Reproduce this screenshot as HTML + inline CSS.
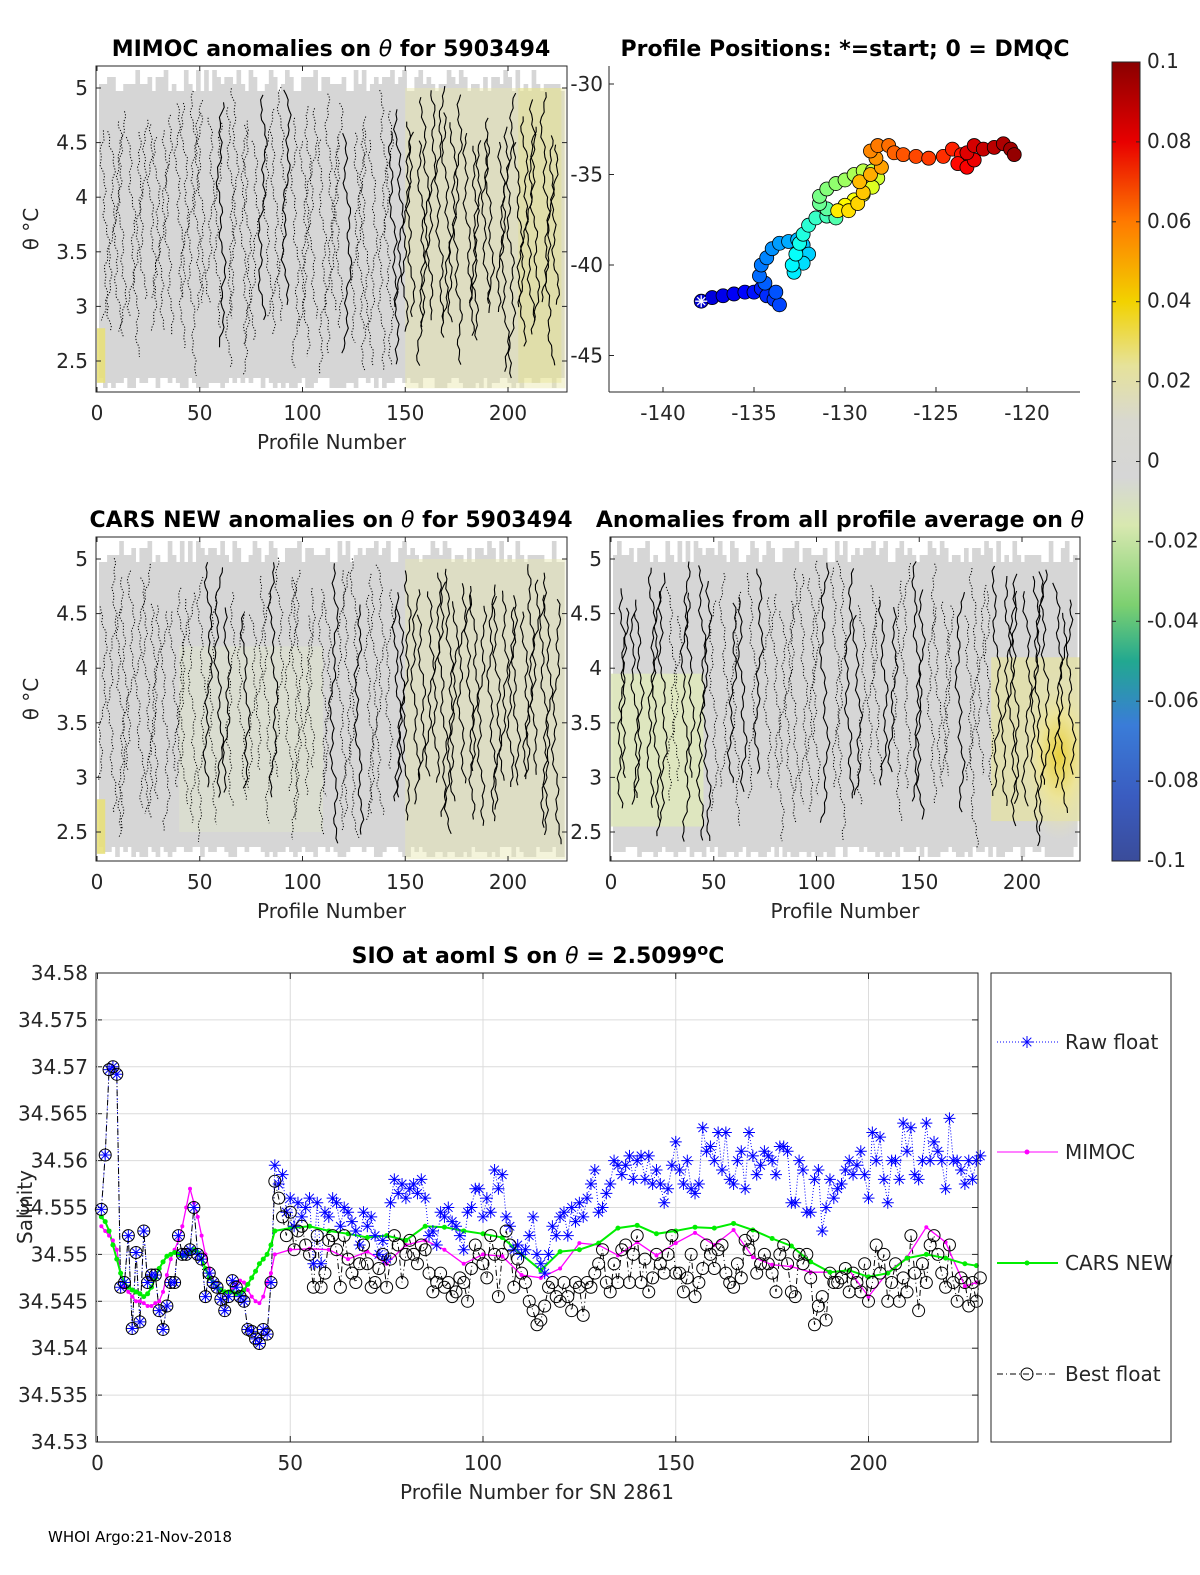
<!DOCTYPE html>
<html><head><meta charset="utf-8"><style>
html,body{margin:0;padding:0;background:#fff;}
svg{display:block;font-family:"DejaVu Sans","Liberation Sans",sans-serif;}
.t{font-size:20px;fill:#262626;}
.ti{font-size:22px;font-weight:bold;fill:#000;}
</style></head><body>
<svg id="fig" width="1200" height="1575" viewBox="0 0 1200 1575" xmlns="http://www.w3.org/2000/svg">
<defs>
<linearGradient id="cbar" x1="0" y1="0" x2="0" y2="1">
<stop offset="0" stop-color="#8a0000"/><stop offset="0.1" stop-color="#e80000"/>
<stop offset="0.2" stop-color="#ff7a00"/><stop offset="0.3" stop-color="#f2d200"/>
<stop offset="0.38" stop-color="#e6e29a"/><stop offset="0.45" stop-color="#d8d8d0"/>
<stop offset="0.52" stop-color="#d6d6d6"/><stop offset="0.58" stop-color="#d8e8b0"/>
<stop offset="0.68" stop-color="#7cd070"/><stop offset="0.75" stop-color="#22a890"/>
<stop offset="0.83" stop-color="#3a7cd8"/><stop offset="0.92" stop-color="#3a5cc0"/>
<stop offset="1" stop-color="#3a4c9a"/></linearGradient>
<radialGradient id="yel4" cx="0.5" cy="0.5" r="0.5"><stop offset="0" stop-color="#e8d040"/><stop offset="0.5" stop-color="#ece49a"/><stop offset="1" stop-color="#e0e0c0" stop-opacity="0"/></radialGradient>
</defs>
<text class="ti" x="331" y="56" text-anchor="middle">MIMOC anomalies on <tspan font-style="italic" font-weight="normal">θ</tspan>  for 5903494</text>
<text class="ti" x="845" y="56" text-anchor="middle">Profile Positions: *=start; 0 = DMQC</text>
<text class="ti" x="331" y="527" text-anchor="middle">CARS NEW anomalies on <tspan font-style="italic" font-weight="normal">θ</tspan> for 5903494</text>
<text class="ti" x="840" y="527" text-anchor="middle">Anomalies from all profile average on <tspan font-style="italic" font-weight="normal">θ</tspan></text>
<text class="ti" x="538" y="963" text-anchor="middle">SIO at aoml S on <tspan font-style="italic" font-weight="normal">θ</tspan> = 2.5099<tspan dy="-8" font-size="16">o</tspan><tspan dy="8">C</tspan></text>
<text x="48" y="1542" font-size="15" fill="#000">WHOI Argo:21-Nov-2018</text>
<g id="g"></g>
</svg>
<script>
// ---- salinity chart data ----
const rawP1 = [34.5548,34.5606,34.5697,34.5700,34.5692,34.5465,34.5470,34.5520,34.5421,34.5502,34.5428,34.5525,34.5470,34.5478,34.5478,34.5440,34.5420,34.5445,34.5470,34.5470,34.5520,34.5500,34.5500,34.5505,34.5550,34.5500,34.5495,34.5455,34.5480,34.5470,34.5465,34.5452,34.5440,34.5455,34.5472,34.5465,34.5455,34.5450,34.5420,34.5418,34.5410,34.5405,34.5420,34.5415,34.5470,34.5595];
const rawP2 = [34.5575,34.5585,34.5545,34.5560,34.5530,34.5555,34.5540,34.5550,34.5560,34.5490,
34.5555,34.5490,34.5545,34.5540,34.5560,34.5555,34.5530,34.5550,34.5545,34.5535,
34.5525,34.5510,34.5545,34.5530,34.5540,34.5520,34.5500,34.5515,34.5495,34.5555,
34.5580,34.5565,34.5575,34.5560,34.5570,34.5575,34.5565,34.5580,34.5560,34.5520,
34.5525,34.5510,34.5545,34.5540,34.5550,34.5535,34.5530,34.5520,34.5505,34.5545,
34.5550,34.5570,34.5570,34.5540,34.5560,34.5545,34.5590,34.5570,34.5585,34.5540,
34.5530,34.5505,34.5510,34.5500,34.5505,34.5520,34.5540,34.5500,34.5490,34.5480,
34.5500,34.5530,34.5520,34.5540,34.5545,34.5520,34.5550,34.5535,34.5555,34.5540,
34.5560,34.5575,34.5590,34.5545,34.5550,34.5565,34.5575,34.5600,34.5595,34.5585,
34.5595,34.5605,34.5580,34.5600,34.5605,34.5580,34.5605,34.5575,34.5590,34.5575,
34.5555,34.5570,34.5595,34.5620,34.5590,34.5575,34.5600,34.5570,34.5565,34.5575,
34.5635,34.5610,34.5615,34.5600,34.5630,34.5590,34.5630,34.5580,34.5575,34.5600,
34.5610,34.5570,34.5630,34.5605,34.5585,34.5595,34.5610,34.5605,34.5600,34.5585,
34.5615,34.5615,34.5610,34.5555,34.5555,34.5600,34.5590,34.5545,34.5545,34.5580,
34.5590,34.5525,34.5550,34.5580,34.5560,34.5570,34.5575,34.5590,34.5600,34.5585,
34.5595,34.5610,34.5585,34.5560,34.5630,34.5600,34.5625,34.5580,34.5555,34.5600,
34.5600,34.5580,34.5640,34.5610,34.5635,34.5585,34.5580,34.5600,34.5640,34.5600,
34.5620,34.5610,34.5600,34.5570,34.5645,34.5600,34.5600,34.5590,34.5575,34.5600,
34.5580,34.5600,34.5605];
const bestP2 = [34.5578,34.5560,34.5540,34.5520,34.5545,34.5505,34.5525,34.5530,34.5510,34.5500,34.5465,
34.5520,34.5465,34.5480,34.5515,34.5520,34.5505,34.5465,34.5520,34.5495,34.5480,
34.5470,34.5490,34.5510,34.5490,34.5465,34.5470,34.5485,34.5500,34.5465,34.5495,
34.5520,34.5510,34.5470,34.5500,34.5515,34.5500,34.5490,34.5510,34.5505,34.5480,
34.5460,34.5470,34.5480,34.5465,34.5470,34.5455,34.5460,34.5475,34.5470,34.5450,
34.5485,34.5510,34.5500,34.5490,34.5475,34.5520,34.5500,34.5455,34.5500,34.5525,
34.5510,34.5465,34.5495,34.5480,34.5470,34.5450,34.5440,34.5425,34.5430,34.5445,
34.5465,34.5470,34.5455,34.5450,34.5470,34.5455,34.5440,34.5470,34.5465,34.5435,
34.5470,34.5465,34.5480,34.5490,34.5505,34.5470,34.5460,34.5490,34.5470,34.5505,
34.5510,34.5470,34.5500,34.5520,34.5470,34.5495,34.5460,34.5475,34.5500,34.5490,
34.5480,34.5500,34.5520,34.5480,34.5480,34.5460,34.5475,34.5500,34.5455,34.5470,
34.5485,34.5510,34.5500,34.5485,34.5505,34.5510,34.5480,34.5470,34.5465,34.5490,
34.5475,34.5515,34.5505,34.5520,34.5480,34.5490,34.5500,34.5490,34.5480,34.5460,
34.5500,34.5510,34.5490,34.5460,34.5455,34.5500,34.5490,34.5500,34.5475,34.5425,
34.5445,34.5455,34.5430,34.5480,34.5470,34.5470,34.5475,34.5485,34.5460,34.5480,
34.5470,34.5460,34.5490,34.5450,34.5470,34.5510,34.5480,34.5500,34.5450,34.5470,
34.5490,34.5450,34.5475,34.5460,34.5520,34.5480,34.5440,34.5490,34.5470,34.5510,
34.5520,34.5500,34.5480,34.5465,34.5510,34.5470,34.5450,34.5475,34.5470,34.5445,
34.5470,34.5450,34.5475];
const rawFloat = rawP1.concat(rawP2);
const bestFloat = rawP1.slice(0,45).concat(bestP2);
const mimocProf = [1,2,3,4,5,6,7,8,9,10,11,12,13,14,15,16,17,18,19,20,21,22,23,24,25,26,27,28,29,30,31,32,33,34,35,36,37,38,39,40,41,42,43,44,45,46,50,55,60,65,70,75,80,85,90,95,100,105,110,115,120,125,130,135,140,145,150,155,160,165,170,175,180,185,190,195,200,205,210,215,220,225,228];
const mimocVal = [34.5530,34.5525,34.5520,34.5515,34.5505,34.5480,34.5465,34.5460,34.5455,34.5450,34.5450,34.5448,34.5445,34.5445,34.5448,34.5450,34.5460,34.5478,34.5495,34.5505,34.5515,34.5530,34.5550,34.5570,34.5555,34.5540,34.5520,34.5500,34.5485,34.5470,34.5465,34.5462,34.5460,34.5458,34.5462,34.5468,34.5472,34.5470,34.5462,34.5455,34.5450,34.5448,34.5455,34.5470,34.5480,34.5500,
34.5505,34.5506,34.5505,34.5495,34.5503,34.5490,34.5510,34.5515,34.5505,34.5490,34.5500,34.5498,34.5478,34.5475,34.5485,34.5512,34.5510,34.5499,34.5513,34.5499,34.5512,34.5523,34.5510,34.5526,34.5497,34.5489,34.5487,34.5481,34.5481,34.5483,34.5455,34.5481,34.5497,34.5529,34.5513,34.5466,34.5470];
const carsVal = [34.5540,34.5535,34.5525,34.5510,34.5495,34.5480,34.5470,34.5465,34.5462,34.5460,34.5458,34.5455,34.5458,34.5465,34.5475,34.5485,34.5492,34.5498,34.5500,34.5502,34.5500,34.5498,34.5500,34.5502,34.5505,34.5502,34.5495,34.5485,34.5475,34.5470,34.5465,34.5462,34.5460,34.5460,34.5460,34.5458,34.5458,34.5462,34.5468,34.5475,34.5482,34.5490,34.5495,34.5500,34.5510,34.5525,
34.5528,34.5530,34.5525,34.5522,34.5518,34.5520,34.5515,34.5530,34.5529,34.5525,34.5522,34.5518,34.5500,34.5483,34.5503,34.5505,34.5512,34.5528,34.5531,34.5522,34.5525,34.5529,34.5528,34.5533,34.5526,34.5517,34.5509,34.5492,34.5481,34.5483,34.5476,34.5480,34.5496,34.5500,34.5496,34.5490,34.5488];
const salYTicks = [34.53,34.535,34.54,34.545,34.55,34.555,34.56,34.565,34.57,34.575,34.58];
const salXTicks = [0,50,100,150,200];
// ---- map data ----
const trackLon = [-137.9,-137.3,-136.7,-136.1,-135.5,-135.0,-134.6,-134.3,-133.9,-133.6,-133.8,-134.4,-134.7,-134.6,-134.3,-134.0,-133.6,-133.1,-132.6,-132.3,-132.0,-132.3,-132.8,-132.9,-132.7,-132.5,-132.3,-132.0,-131.6,-131.0,-130.5,-131.0,-131.4,-131.4,-131.0,-130.5,-130.0,-129.5,-129.0,-128.5,-128.2,-128.5,-129.0,-129.5,-130.0,-130.4,-129.8,-129.3,-129.0,-129.2,-128.6,-128.0,-128.3,-128.6,-128.2,-127.6,-127.3,-126.8,-126.1,-125.4,-124.6,-124.1,-123.6,-123.8,-123.3,-122.9,-123.3,-122.9,-122.4,-121.8,-121.3,-120.9,-120.7];
const trackLat = [-42.0,-41.8,-41.7,-41.6,-41.5,-41.5,-41.3,-41.7,-41.9,-42.2,-41.5,-41.0,-40.6,-40.0,-39.6,-39.1,-38.8,-38.7,-38.6,-38.9,-39.4,-39.9,-40.4,-40.0,-39.4,-38.8,-38.3,-37.8,-37.4,-37.3,-37.4,-36.9,-36.6,-36.2,-35.8,-35.5,-35.3,-35.0,-34.8,-34.8,-35.2,-35.7,-36.1,-36.4,-36.7,-37.0,-37.0,-36.6,-36.0,-35.4,-35.0,-34.6,-34.1,-33.7,-33.4,-33.4,-33.8,-33.9,-34.0,-34.1,-34.0,-33.6,-33.9,-34.4,-34.6,-34.2,-33.8,-33.4,-33.6,-33.5,-33.3,-33.6,-33.9];
const mapXTicks = [-140,-135,-130,-125,-120];
const mapYTicks = [-30,-35,-40,-45];
const cbTicks = [0.1,0.08,0.06,0.04,0.02,0,-0.02,-0.04,-0.06,-0.08,-0.1];
const thetaTicks = [2.5,3,3.5,4,4.5,5];
const profTicks = [0,50,100,150,200];

const NS='http://www.w3.org/2000/svg';
const G=document.getElementById('g');
function el(tag,attrs,parent,txt){const e=document.createElementNS(NS,tag);for(const k in attrs)e.setAttribute(k,attrs[k]);if(txt!==undefined)e.textContent=txt;(parent||G).appendChild(e);return e;}
function hash(i){const s=Math.sin(i*12.9898+78.233)*43758.5453;return s-Math.floor(s);}
let clipN=0;
function panel(name,x0,y0,w,h,opts){
  const g=el('g',{});
  
  
  const cid='clip'+(clipN++);
  const cp=el('clipPath',{id:cid},g);el('rect',{x:x0,y:y0,width:w,height:h},cp);
  const inner=el('g',{'clip-path':'url(#'+cid+')'},g);
  const pxs=p=>x0+1+p*2.055;
  const tys=t=>y0+22+(5-t)/0.5*54.6;
  el('rect',{x:x0,y:y0,width:w,height:h,fill:'#fff'},inner);
  const N=115;
  for(let i=0;i<N;i++){
    const cx=x0+3+i*(w-6)/N, cw=(w-6)/N+0.6;
    const top=y0+4+Math.floor(hash(i+opts.seed)*4)*7;
    const bot=y0+h-4-Math.floor(hash(i*3+opts.seed)*3)*5;
    el('rect',{x:cx,y:top,width:cw,height:bot-top,fill:'#d6d6d6'},inner);
  }
  (opts.tints||[]).forEach(t=>{el('rect',{x:pxs(t[0]),y:tys(t[3]),width:pxs(t[1])-pxs(t[0]),height:tys(t[2])-tys(t[3]),fill:t[4],opacity:t[5]},inner);});
  if(opts.blob){const b=opts.blob;el('ellipse',{cx:pxs(b[0]),cy:tys(b[1]),rx:b[2],ry:b[3],fill:'url(#yel4)'},inner);}
  const n=opts.lines;
  for(let j=0;j<n;j++){
    const bx=x0+6+(w-12)*(j+hash(j+opts.seed*7)*0.8)/n;
    const frac=(bx-x0)/w;
    const solid=opts.solidFn(frac,j);
    let d='';const ya=y0+20+hash(j*5+opts.seed)*60, yb=y0+h-10-hash(j*11+opts.seed)*80;
    for(let y=ya;y<=yb;y+=5){const x=bx+2.5*Math.sin(y*0.031+j*1.7)+1.8*Math.sin(y*0.11+j*2.3)+1.2*Math.sin(y*0.37+j);d+=(d?'L':'M')+x.toFixed(1)+','+y.toFixed(1);}
    el('path',{d:d,fill:'none',stroke:'#000','stroke-width':solid?1.1:1,'stroke-dasharray':solid?'none':'1.2,1.8'},inner);
  }
  el('rect',{x:x0,y:y0,width:w,height:h,fill:'none',stroke:'#262626','stroke-width':1},g);
  profTicks.forEach(p=>{const x=pxs(p);el('line',{x1:x,y1:y0+h,x2:x,y2:y0+h-5,stroke:'#262626'},g);el('line',{x1:x,y1:y0,x2:x,y2:y0+5,stroke:'#262626'},g);
    el('text',{x:x,y:y0+h+28,'text-anchor':'middle',class:'t'},g,String(p));});
  thetaTicks.forEach(v=>{const y=tys(v);el('line',{x1:x0,y1:y,x2:x0+5,y2:y,stroke:'#262626'},g);el('line',{x1:x0+w,y1:y,x2:x0+w-5,y2:y,stroke:'#262626'},g);
    el('text',{x:x0-8,y:y+7,'text-anchor':'end',class:'t'},g,String(v));});
  if(opts.xlabel){el('text',{x:x0+w/2,y:y0+h+57,'text-anchor':'middle',class:'t','font-size':'22'},g,'Profile Number');}
  if(opts.ylabel){el('text',{x:0,y:0,transform:'translate('+(x0-58)+','+(y0+h/2)+') rotate(-90)','text-anchor':'middle',class:'t','font-size':'22'},g,'θ °C');}
}
panel('mimoc-anomaly-panel',96,66,471,326,{seed:1,lines:70,tints:[[150,228,2.25,5.0,'#e8e6a8',0.45],[0,4,2.3,2.8,'#e8e07a',0.9],[205,226,2.3,5,'#e6e080',0.35]],solidFn:(f,j)=>f>0.63||hash(j)>0.88,xlabel:true,ylabel:true});
panel('cars-anomaly-panel',96,537,471,324,{seed:5,lines:68,tints:[[150,228,2.25,5.0,'#e6e6b0',0.45],[0,4,2.3,2.8,'#e8e07a',0.9],[40,110,2.5,4.2,'#e0e8c8',0.4]],solidFn:(f,j)=>f>0.63||hash(j+3)>0.85,xlabel:true,ylabel:true});
panel('average-anomaly-panel',610,537,470,324,{seed:9,lines:62,tints:[[0,45,2.55,3.95,'#dfe8bc',0.9],[185,228,2.6,4.1,'#e6e2a0',0.7]],blob:[218,3.2,40,85],solidFn:(f,j)=>(f<0.12||f>0.82||hash(j+9)>0.7),xlabel:true,ylabel:false});

(function(){
  const g=el('g',{});
  
  
  const mx=lon=>663+(lon+140)*18.2, my=lat=>84+(-30-lat)*18.1;
  el('line',{x1:609,y1:66,x2:609,y2:392,stroke:'#262626'},g);
  el('line',{x1:609,y1:392,x2:1080,y2:392,stroke:'#262626'},g);
  mapXTicks.forEach(v=>{const x=mx(v);el('line',{x1:x,y1:392,x2:x,y2:387,stroke:'#262626'},g);el('text',{x:x,y:420,'text-anchor':'middle',class:'t'},g,String(v));});
  mapYTicks.forEach(v=>{const y=my(v);el('line',{x1:609,y1:y,x2:614,y2:y,stroke:'#262626'},g);el('text',{x:603,y:y+7,'text-anchor':'end',class:'t'},g,String(v));});
  const n=trackLon.length;
  function jet(t){const c=v=>Math.round(255*Math.max(0,Math.min(1,v)));const r=c(1.5-Math.abs(4*t-3)),gg=c(1.5-Math.abs(4*t-2)),b=c(1.5-Math.abs(4*t-1));return 'rgb('+r+','+gg+','+b+')';}
  for(let i=0;i<n;i++){
    const c=el('circle',{cx:mx(trackLon[i]),cy:my(trackLat[i]),r:7,fill:jet(0.08+0.9*i/(n-1)),stroke:'#000','stroke-width':0.8},g);
    
    
  }
  const sx=mx(trackLon[0]),sy=my(trackLat[0]);
  const st=el('path',{d:`M${sx-6},${sy}H${sx+6}M${sx},${sy-6}V${sy+6}M${sx-4},${sy-4}L${sx+4},${sy+4}M${sx-4},${sy+4}L${sx+4},${sy-4}`,stroke:'#fff','stroke-width':1.3},g);
  
  
})();

(function(){
  const g=el('g',{});
  
  
  el('rect',{x:1112,y:62,width:28,height:799,fill:'url(#cbar)',stroke:'#262626','stroke-width':1},g);
  cbTicks.forEach(v=>{const y=62+(0.1-v)/0.2*799;el('line',{x1:1112,y1:y,x2:1116,y2:y,stroke:'#262626'},g);el('line',{x1:1140,y1:y,x2:1136,y2:y,stroke:'#262626'},g);
    el('text',{x:1147,y:y+6,class:'t','font-size':'18'},g,String(v));});
})();

(function(){
  const g=el('g',{});
  
  
  const X0=96,X1=978,Y0=973,Y1=1442;
  const xs=p=>97.5+p*3.855, ys=s=>Y0+(34.58-s)/0.05*(Y1-Y0);
  el('text',{x:0,y:0,transform:'translate(32,1207) rotate(-90)','text-anchor':'middle',class:'t','font-size':'22'},g,'Salinity');
  el('rect',{x:X0,y:Y0,width:X1-X0,height:Y1-Y0,fill:'#fff'},g);
  salYTicks.forEach(v=>{const y=ys(v);el('line',{x1:X0,y1:y,x2:X1,y2:y,stroke:'#dcdcdc'},g);el('line',{x1:X0,y1:y,x2:X0+6,y2:y,stroke:'#262626'},g);el('line',{x1:X1,y1:y,x2:X1-6,y2:y,stroke:'#262626'},g);
    el('text',{x:88,y:y+7,'text-anchor':'end',class:'t','font-size':'21'},g,String(v));});
  salXTicks.forEach(v=>{const x=xs(v);el('line',{x1:x,y1:Y0,x2:x,y2:Y1,stroke:'#dcdcdc'},g);el('line',{x1:x,y1:Y1,x2:x,y2:Y1-6,stroke:'#262626'},g);el('line',{x1:x,y1:Y0,x2:x,y2:Y0+6,stroke:'#262626'},g);
    el('text',{x:x,y:Y1+28,'text-anchor':'middle',class:'t'},g,String(v));});
  el('text',{x:X0+(X1-X0)/2,y:1499,'text-anchor':'middle',class:'t','font-size':'22'},g,'Profile Number for SN 2861');
  function line(px,vals,attrs,name){let d='';vals.forEach((v,i)=>{d+=(i?'L':'M')+xs(px[i]).toFixed(1)+','+ys(v).toFixed(1);});const p=el('path',Object.assign({d:d,fill:'none'},attrs),g);}
  const prof=rawFloat.map((_,i)=>i+1);
  line(prof,rawFloat,{stroke:'#0000ff','stroke-width':1,'stroke-dasharray':'1,2'},'raw-float-line');
  line(prof,bestFloat,{stroke:'#000','stroke-width':1,'stroke-dasharray':'6,3,1,3'},'best-float-line');
  line(mimocProf,mimocVal,{stroke:'#ff00ff','stroke-width':1.3},'mimoc-line');
  line(mimocProf,carsVal,{stroke:'#00ee00','stroke-width':2},'cars-line');
  mimocProf.forEach((p,i)=>{el('circle',{cx:xs(p),cy:ys(mimocVal[i]),r:2,fill:'#ff00ff'},g);el('circle',{cx:xs(p),cy:ys(carsVal[i]),r:2.5,fill:'#00ee00'},g);});
  rawFloat.forEach((v,i)=>{const x=xs(i+1),y=ys(v),s=6;
    const m=el('path',{d:`M${x-s},${y}H${x+s}M${x},${y-s}V${y+s}M${x-4.3},${y-4.3}L${x+4.3},${y+4.3}M${x-4.3},${y+4.3}L${x+4.3},${y-4.3}`,stroke:'#0000ff','stroke-width':1},g);
    
    });
  bestFloat.forEach((v,i)=>{const c=el('circle',{cx:xs(i+1),cy:ys(v),r:6,fill:'none',stroke:'#000','stroke-width':1},g);
    
    });
  el('rect',{x:X0,y:Y0,width:X1-X0,height:Y1-Y0,fill:'none',stroke:'#262626'},g);
  const lg=el('g',{},g);
  
  
  el('rect',{x:991,y:973,width:180,height:469,fill:'#fff',stroke:'#262626'},lg);
  const items=[['Raw float',1042,'#0000ff','1,2','star'],['MIMOC',1152,'#ff00ff','none','dot'],['CARS NEW',1263,'#00ee00','none','dot'],['Best float',1374,'#000','6,3,1,3','circ']];
  items.forEach(it=>{const y=it[1];
    const e=el('g',{},lg);
    
    
    el('line',{x1:997,y1:y,x2:1058,y2:y,stroke:it[2],'stroke-dasharray':it[3],'stroke-width':it[0]==='CARS NEW'?2:1},e);
    const x=1027;
    if(it[4]==='star')el('path',{d:`M${x-6},${y}H${x+6}M${x},${y-6}V${y+6}M${x-4.3},${y-4.3}L${x+4.3},${y+4.3}M${x-4.3},${y+4.3}L${x+4.3},${y-4.3}`,stroke:it[2]},e);
    else if(it[4]==='dot')el('circle',{cx:x,cy:y,r:2.5,fill:it[2]},e);
    else el('circle',{cx:x,cy:y,r:6,fill:'none',stroke:'#000'},e);
    el('text',{x:1065,y:y+7,class:'t','font-size':'19',fill:'#000'},e,it[0]);});
})();
</script>
</body></html>
